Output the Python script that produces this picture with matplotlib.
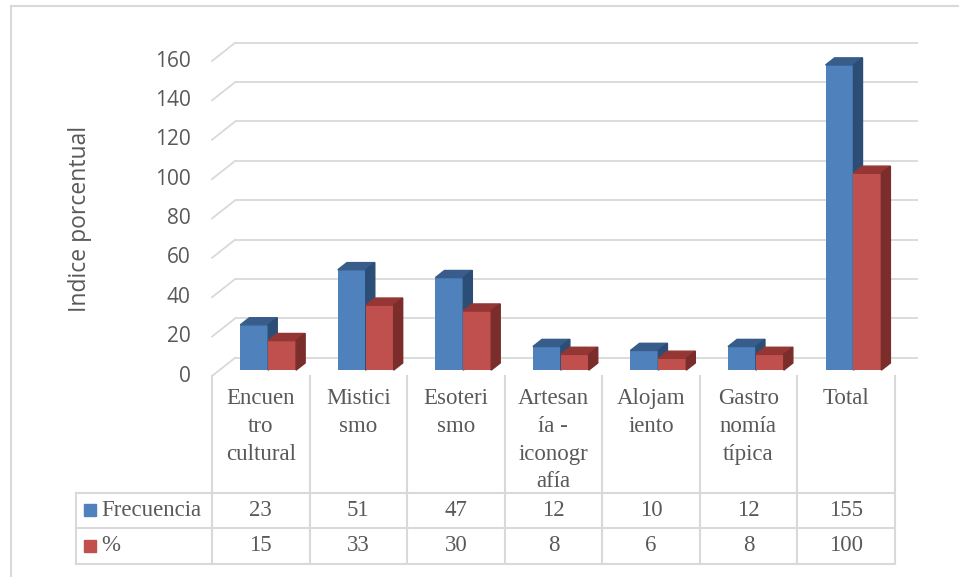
import matplotlib.pyplot as plt
from matplotlib.patches import Polygon
from matplotlib.lines import Line2D

categorias = ["Encuen\ntro\ncultural", "Mistici\nsmo", "Esoteri\nsmo",
              "Artesan\nía -\niconogr\nafía", "Alojam\niento",
              "Gastro\nnomía\ntípica", "Total"]
frecuencia = [23, 51, 47, 12, 10, 12, 155]
porcentaje = [15, 33, 30, 8, 6, 8, 100]
series = ["Frecuencia", "%"]
yticks = [0, 20, 40, 60, 80, 100, 120, 140, 160]

W, H = 959, 577
gris = "#d9d9d9"
texto = "#595959"
colores = [("#4F81BD", "#385D8A", "#2C4D75"),
           ("#C0504D", "#943634", "#7A2D2B")]


def fx(px):
    return px / W


def fy(py):
    return 1 - py / H


fig = plt.figure(figsize=(9.59, 5.77), dpi=100)

# profundidad 3D en unidades de datos
dx, dy = 0.238, 9.3
ax = fig.add_axes([fx(212), fy(376), fx(918 - 212), (376 - 42.7) / H])
ax.set_xlim(-0.5, 6.5 + dx)
ax.set_ylim(0, 160 + dy)
ax.axis("off")

# pared del fondo y pared lateral
for v in yticks:
    ax.plot([-0.5 + dx, 6.5 + dx], [v + dy, v + dy], color=gris, lw=1.3,
            zorder=1, clip_on=False, solid_capstyle="butt")
    ax.plot([-0.5, -0.5 + dx], [v, v + dy], color=gris, lw=1.3,
            zorder=1, clip_on=False)
    ax.text(-0.5 - 0.22, v, str(v), ha="right", va="center", fontsize=15,
            color=texto, family=["Open Sans", "DejaVu Sans"])

ax.text(-0.5 - 1.35, 80, "Indice porcentual", rotation=90, ha="center",
        va="center", fontsize=16.5, color=texto,
        family=["Open Sans", "DejaVu Sans"])

# barras 3D
w = 0.286
sx, sy = 0.32 * dx, 0.32 * dy
bdx, bdy = 0.39 * dx, 0.39 * dy
for s, vals in enumerate([frecuencia, porcentaje]):
    cf, ct, cs = colores[s]
    z = 3 + s
    for i, v in enumerate(vals):
        x0 = i - w + s * w + sx
        ax.bar(x0, v, width=w, bottom=sy, align="edge", color=cf, zorder=z)
        top = [(x0, sy + v), (x0 + w, sy + v), (x0 + w + bdx, sy + v + bdy),
               (x0 + bdx, sy + v + bdy)]
        side = [(x0 + w, sy), (x0 + w + bdx, sy + bdy),
                (x0 + w + bdx, sy + v + bdy), (x0 + w, sy + v)]
        ax.add_patch(Polygon(top, closed=True, color=ct, zorder=z))
        ax.add_patch(Polygon(side, closed=True, color=cs, zorder=z))

# tabla de datos
tab = fig.add_axes([fx(212), fy(563.5), fx(918 - 212), (563.5 - 376) / H])
tab.set_xlim(-0.5, 6.5 + dx)
tab.set_ylim(1, 0)
tab.axis("off")
xl = -0.5 - (212 - 75.7) / 97.54
filas = [0.622, 0.812, 1.0]
for k in range(8):
    tab.plot([-0.5 + k, -0.5 + k], [0, 1], color=gris, lw=1.5, clip_on=False)
tab.plot([xl, xl], [filas[0], 1], color=gris, lw=1.5, clip_on=False)
for yy in filas:
    tab.plot([xl, 6.5], [yy, yy], color=gris, lw=1.5, clip_on=False)

serif = ["Liberation Serif", "DejaVu Serif"]
for i, c in enumerate(categorias):
    tab.text(i, 0.065, c, ha="center", va="top", fontsize=16.5, color=texto,
             family=serif, linespacing=1.42)
for r, vals in enumerate([frecuencia, porcentaje]):
    yc = (filas[r] + filas[r + 1]) / 2
    tab.plot([xl + 0.144], [yc], marker="s", ms=8, color=colores[r][0],
             clip_on=False, lw=0)
    tab.text(xl + 0.258, yc, series[r], ha="left", va="center", fontsize=16.5,
             color=texto, family=serif)
    for i, v in enumerate(vals):
        tab.text(i, yc, str(v), ha="center", va="center", fontsize=16.5,
                 color=texto, family=serif)

# borde del grafico
fig.add_artist(Line2D([fx(11), fx(11)], [fy(6), -0.1], color=gris, lw=1.5))
fig.add_artist(Line2D([fx(11), 1.1], [fy(6), fy(6)], color=gris, lw=1.5))

fig.savefig("out.png", dpi=100)
